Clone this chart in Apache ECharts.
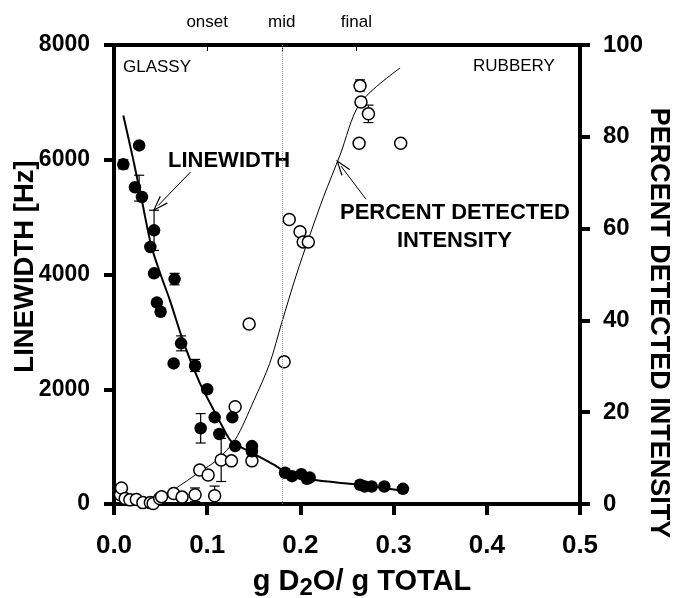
<!DOCTYPE html>
<html><head><meta charset="utf-8">
<script src="https://cdn.jsdelivr.net/npm/echarts@6/dist/echarts.min.js"></script>
<style>html,body{margin:0;padding:0;background:#fff}#c{width:676px;height:598px}</style>
</head><body><div id="c"></div>
<script>
// ---- data ----
const xMin = 0, xMax = 0.5, xStep = 0.1;
const lwMin = 0, lwMax = 8000, lwStep = 2000;
const piMin = 0, piMax = 100, piStep = 20;
const topTickVals = [0.1, 0.18, 0.26];
const topTickNames = ['onset', 'mid', 'final'];
const midLine = 0.18;

// linewidth (filled circles, left axis)
const lwX = [0.010,0.027,0.0225,0.030,0.039,0.043,0.043,0.046,0.050,0.065,0.064,0.072,0.087,0.100,0.093,0.108,0.127,0.113,0.130,0.148,0.148,0.1835,0.191,0.201,0.207,0.210,0.264,0.269,0.2765,0.290,0.310];
const lwY = [5920,6250,5520,5350,4480,4770,4020,3510,3350,3920,2450,2800,2410,2000,1320,1510,1510,1220,1010,1010,920,545,485,520,440,460,335,305,305,305,265];
// linewidth error bars
const lwErrX  = [0.010,0.027,0.043,0.065,0.072,0.087,0.093];
const lwErrLo = [5840,5280,4420,3820,2670,2310,1063];
const lwErrHi = [6000,5730,5120,4020,2930,2520,1576];
// linewidth fitted curve
const lwFitX = [0.010,0.020,0.030,0.040,0.050,0.060,0.075,0.092,0.105,0.117,0.126,0.146,0.171,0.183,0.210,0.264,0.310];
const lwFitY = [6770,6050,5280,4500,4000,3550,2800,2110,1700,1330,1090,910,690,570,430,335,230];

// percent detected intensity (open circles, right axis)
const piX = [0.007,0.008,0.012,0.017,0.024,0.031,0.039,0.042,0.049,0.051,0.064,0.073,0.087,0.092,0.101,0.108,0.115,0.126,0.130,0.145,0.148,0.1825,0.188,0.1996,0.203,0.2085,0.264,0.265,0.273,0.263,0.3076];
const piY = [2.0,3.5,1.2,0.9,1.0,0.3,0.3,0.1,1.2,1.6,2.3,1.5,2.0,7.4,6.3,1.8,9.6,9.4,21.2,39.2,9.4,31.0,62.0,59.3,57.1,57.1,91.1,87.6,85.0,78.6,78.6];
// percent error bars
const piErrX  = [0.087,0.108,0.115,0.264,0.273];
const piErrLo = [0.5,0.2,4.9,90.0,83.1];
const piErrHi = [3.5,3.9,14.3,92.4,86.9];
// percent fitted curve
const piFitX = [0.045,0.060,0.075,0.092,0.110,0.130,0.150,0.167,0.180,0.195,0.210,0.225,0.2425,0.264,0.307];
const piFitY = [1.0,2.6,4.6,7.0,9.5,14.0,22.5,30.6,39.5,49.5,58.5,67.0,76.0,87.3,95.0];

// annotation arrows (data coordinates)
const lwArrowFrom = [0.0823, 5789], lwArrowTo = [0.0475, 5204];
const piArrowFrom = [0.2704, 66.4], piArrowTo = [0.2436, 73.6];

// ---- chart ----
const FONT = '"Liberation Sans", Arial, Helvetica, sans-serif';
const zip = (a, b) => a.map((v, i) => [v, b[i]]);
const zip3 = (a, b, c) => a.map((v, i) => [v, b[i], c[i]]);
const arrowPath = 'path://M0,14 L6,0 L12,14 L10.6,14 L6,3 L1.4,14 Z';

function errRender(params, api) {
  const x = api.value(0), lo = api.value(1), hi = api.value(2);
  const p1 = api.coord([x, lo]), p2 = api.coord([x, hi]);
  const w = 5, st = {stroke: '#000', lineWidth: 1.2};
  return {type: 'group', children: [
    {type: 'line', shape: {x1: p1[0], y1: p1[1], x2: p2[0], y2: p2[1]}, style: st},
    {type: 'line', shape: {x1: p1[0] - w, y1: p1[1], x2: p1[0] + w, y2: p1[1]}, style: st},
    {type: 'line', shape: {x1: p2[0] - w, y1: p2[1], x2: p2[0] + w, y2: p2[1]}, style: st}
  ]};
}

const axisLineStyle = {show: true, onZero: false, lineStyle: {color: '#000', width: 4}};
const chart = echarts.init(document.getElementById('c'));
chart.setOption({
  animation: false,
  backgroundColor: '#fff',
  textStyle: {fontFamily: FONT, color: '#000'},
  grid: {left: 114, right: 96, top: 45, bottom: 94, containLabel: false, outerBoundsMode: 'none'},
  xAxis: [{
    type: 'value', position: 'bottom', min: xMin, max: xMax, interval: xStep,
    axisLine: axisLineStyle,
    axisTick: {show: true, inside: false, length: 11, lineStyle: {color: '#000', width: 4}},
    axisLabel: {color: '#000', fontFamily: FONT, fontWeight: 'bold', fontSize: 26, margin: 29,
      formatter: v => v.toFixed(1)},
    splitLine: {show: false},
    name: '{a|g D}{s|2}{a|O/ g TOTAL}', nameLocation: 'middle', nameGap: 63, nameMoveOverlap: false,
    nameTextStyle: {color: '#000', fontFamily: FONT, fontWeight: 'bold', fontSize: 29, padding: [0, 0, 0, 30],
      rich: {
        a: {fontFamily: FONT, fontWeight: 'bold', fontSize: 29, color: '#000', verticalAlign: 'top', lineHeight: 34},
        s: {fontFamily: FONT, fontWeight: 'bold', fontSize: 24, color: '#000', verticalAlign: 'top', padding: [9, 0, 0, 0], lineHeight: 34}
      }}
  }, {
    type: 'value', position: 'top', min: xMin, max: xMax,
    axisLine: axisLineStyle,
    axisTick: {show: true, inside: true, length: 6, customValues: topTickVals, lineStyle: {color: '#000', width: 1}},
    axisLabel: {color: '#000', fontFamily: FONT, fontSize: 17, margin: 14, customValues: topTickVals,
      formatter: v => { let k = 0; topTickVals.forEach((t, i) => { if (Math.abs(t - v) < Math.abs(topTickVals[k] - v)) k = i; }); return topTickNames[k]; }},
    splitLine: {show: false}
  }],
  yAxis: [{
    type: 'value', position: 'left', min: lwMin, max: lwMax, interval: lwStep,
    axisLine: axisLineStyle,
    axisTick: {show: true, inside: false, length: 10, lineStyle: {color: '#000', width: 4}},
    axisLabel: {color: '#000', fontFamily: FONT, fontWeight: 'bold', fontSize: 23, margin: 24, formatter: v => String(v)},
    splitLine: {show: false},
    name: 'LINEWIDTH [Hz]', nameLocation: 'middle', nameGap: 75, nameRotate: 90, nameMoveOverlap: false,
    nameTextStyle: {color: '#000', fontFamily: FONT, fontWeight: 'bold', fontSize: 27.5, padding: [0, 0, 0, 16]}
  }, {
    type: 'value', position: 'right', min: piMin, max: piMax, interval: piStep,
    axisLine: axisLineStyle,
    axisTick: {show: true, inside: false, length: 10, lineStyle: {color: '#000', width: 4}},
    axisLabel: {color: '#000', fontFamily: FONT, fontWeight: 'bold', fontSize: 24, margin: 23, formatter: v => String(v)},
    splitLine: {show: false},
    name: 'PERCENT DETECTED INTENSITY', nameLocation: 'middle', nameGap: 65, nameRotate: -90, nameMoveOverlap: false,
    nameTextStyle: {color: '#000', fontFamily: FONT, fontWeight: 'bold', fontSize: 27, padding: [0, 0, 0, 97]}
  }],
  series: [{
    name: 'lwFit', type: 'line', xAxisIndex: 0, yAxisIndex: 0, data: zip(lwFitX, lwFitY),
    showSymbol: false, smooth: 0.3, lineStyle: {color: '#000', width: 2}, z: 2, silent: true,
    markLine: {silent: true, animation: false, symbol: ['none', 'none'], label: {show: false},
      lineStyle: {color: '#000', width: 1, type: 'solid'},
      data: [[{coord: lwArrowFrom, symbol: 'none'}, {coord: lwArrowTo, symbol: arrowPath, symbolSize: [11, 16]}]]}
  }, {
    name: 'piFit', type: 'line', xAxisIndex: 0, yAxisIndex: 1, data: zip(piFitX, piFitY),
    showSymbol: false, smooth: 0.3, lineStyle: {color: '#000', width: 1}, z: 2, silent: true,
    markLine: {silent: true, animation: false, symbol: ['none', 'none'], label: {show: false},
      data: [
        [{coord: piArrowFrom, symbol: 'none', lineStyle: {color: '#000', width: 1, type: 'solid'}},
         {coord: piArrowTo, symbol: arrowPath, symbolSize: [11, 16]}],
        {xAxis: midLine, symbol: 'none', lineStyle: {color: '#999', width: 1, type: 'dotted'}}
      ]}
  }, {
    name: 'lwErr', type: 'custom', xAxisIndex: 0, yAxisIndex: 0, renderItem: errRender,
    data: zip3(lwErrX, lwErrLo, lwErrHi), encode: {x: 0, y: [1, 2]}, z: 3, silent: true
  }, {
    name: 'piErr', type: 'custom', xAxisIndex: 0, yAxisIndex: 1, renderItem: errRender,
    data: zip3(piErrX, piErrLo, piErrHi), encode: {x: 0, y: [1, 2]}, z: 3, silent: true
  }, {
    name: 'pi', type: 'scatter', xAxisIndex: 0, yAxisIndex: 1, data: zip(piX, piY),
    symbol: 'circle', symbolSize: 12, itemStyle: {color: '#fff', borderColor: '#000', borderWidth: 1.5, opacity: 1}, z: 4
  }, {
    name: 'lw', type: 'scatter', xAxisIndex: 0, yAxisIndex: 0, data: zip(lwX, lwY),
    symbol: 'circle', symbolSize: 12.5, itemStyle: {color: '#000', opacity: 1}, z: 5
  }],
  graphic: [
    {type: 'text', left: 123, top: 59, style: {text: 'GLASSY', font: '17px ' + FONT, fill: '#000'}},
    {type: 'text', left: 473, top: 58, style: {text: 'RUBBERY', font: '17px ' + FONT, fill: '#000'}},
    {type: 'text', left: 168, top: 150, style: {text: 'LINEWIDTH', font: 'bold 22px ' + FONT, fill: '#000'}},
    {type: 'text', left: 340, top: 202, style: {text: 'PERCENT DETECTED', font: 'bold 22px ' + FONT, fill: '#000'}},
    {type: 'text', left: 397, top: 230, style: {text: 'INTENSITY', font: 'bold 22px ' + FONT, fill: '#000'}}
  ]
});
</script>
</body></html>
